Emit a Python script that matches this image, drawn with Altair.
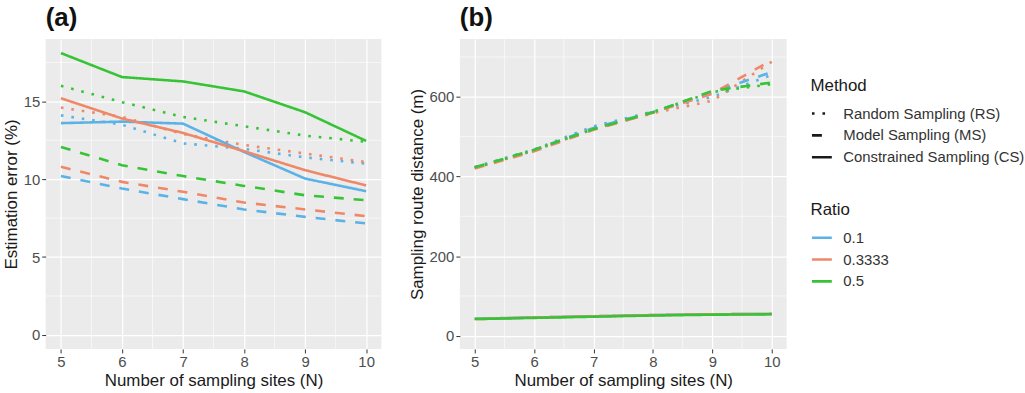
import altair as alt
import pandas as pd

# Number of sampling sites
N = [5, 6, 7, 8, 9, 10]
ratios = ["0.1", "0.3333", "0.5"]
methods = ["Random Sampling (RS)", "Model Sampling (MS)", "Constrained Sampling (CS)"]
ratio_colors = ["#5BB2E6", "#EE8868", "#36C436"]

# (a) Estimation error (%)
err_rs_01 = [14.1, 13.5, 12.3, 11.95, 11.4, 11.0]
err_rs_03 = [14.6, 14.0, 12.9, 12.2, 11.65, 11.1]
err_rs_05 = [16.0, 14.95, 14.0, 13.4, 12.8, 12.4]
err_ms_01 = [10.2, 9.4, 8.72, 8.06, 7.58, 7.16]
err_ms_03 = [10.8, 9.83, 9.19, 8.5, 8.06, 7.63]
err_ms_05 = [12.07, 10.9, 10.2, 9.57, 8.97, 8.65]
err_cs_01 = [13.6, 13.7, 13.57, 11.75, 10.04, 9.23]
err_cs_03 = [15.2, 13.9, 12.97, 11.8, 10.58, 9.6]
err_cs_05 = [18.1, 16.56, 16.28, 15.64, 14.3, 12.46]

# (b) Sampling route distance (m)
dist_rs_01 = [424, 468, 526, 563, 600, 655]
dist_rs_03 = [421, 465, 519, 559, 590, 688]
dist_rs_05 = [422, 466, 520, 562, 612, 632]
dist_ms_01 = [422, 466, 522, 562, 612, 662]
dist_ms_03 = [420, 463, 517, 560, 608, 692]
dist_ms_05 = [423, 467, 519, 561, 615, 636]
dist_cs_01 = [43, 46, 49, 52, 54, 55]
dist_cs_03 = [42, 46, 49, 52, 54, 55]
dist_cs_05 = [42, 45, 48, 51, 53, 54]

err_series = {
    (methods[0], ratios[0]): err_rs_01, (methods[0], ratios[1]): err_rs_03, (methods[0], ratios[2]): err_rs_05,
    (methods[1], ratios[0]): err_ms_01, (methods[1], ratios[1]): err_ms_03, (methods[1], ratios[2]): err_ms_05,
    (methods[2], ratios[0]): err_cs_01, (methods[2], ratios[1]): err_cs_03, (methods[2], ratios[2]): err_cs_05,
}
dist_series = {
    (methods[0], ratios[0]): dist_rs_01, (methods[0], ratios[1]): dist_rs_03, (methods[0], ratios[2]): dist_rs_05,
    (methods[1], ratios[0]): dist_ms_01, (methods[1], ratios[1]): dist_ms_03, (methods[1], ratios[2]): dist_ms_05,
    (methods[2], ratios[0]): dist_cs_01, (methods[2], ratios[1]): dist_cs_03, (methods[2], ratios[2]): dist_cs_05,
}


def long_table(series):
    rows = []
    for (m, r), vals in series.items():
        for n, v in zip(N, vals):
            rows.append({"N": n, "value": v, "Method": m, "Ratio": r})
    return pd.DataFrame(rows)


err_df = long_table(err_series)
dist_df = long_table(dist_series)

FONT = "Liberation Sans"
x_minor = [5.5, 6.5, 7.5, 8.5, 9.5]
err_minor = [2.5, 7.5, 12.5, 17.5]
dist_minor = [100, 300, 500, 700]

color_enc = alt.Color(
    "Ratio:N",
    scale=alt.Scale(domain=ratios, range=ratio_colors),
    legend=alt.Legend(
        title="Ratio", orient="none", legendX=770, legendY=164,
        symbolType="stroke", symbolSize=400, symbolStrokeWidth=2.6,
        symbolDash=[1, 0], labelLimit=300,
    ),
)
dash_enc = alt.StrokeDash(
    "Method:N",
    scale=alt.Scale(domain=methods, range=[[2.6, 8], [10, 10], [1, 0]]),
    legend=alt.Legend(
        title="Method", orient="none", legendX=770, legendY=39,
        symbolType="stroke", symbolSize=400, symbolStrokeWidth=2.6,
        symbolStrokeColor="#1A1A1A", labelLimit=300,
    ),
)


def panel(df, domain, ticks, minor, ytitle, label, width):
    x = alt.X(
        "N:Q", title="Number of sampling sites (N)",
        scale=alt.Scale(domain=[4.75, 10.25], nice=False, zero=False),
        axis=alt.Axis(values=N, format="d"),
    )
    y = alt.Y(
        "value:Q", title=ytitle,
        scale=alt.Scale(domain=domain, nice=False, zero=False),
        axis=alt.Axis(values=ticks, format="d"),
    )
    vminor = alt.Chart(pd.DataFrame({"N": x_minor})).mark_rule(
        color="white", strokeWidth=0.6
    ).encode(x=alt.X("N:Q", scale=alt.Scale(domain=[4.75, 10.25], nice=False, zero=False)))
    hminor = alt.Chart(pd.DataFrame({"value": minor})).mark_rule(
        color="white", strokeWidth=0.6
    ).encode(y=alt.Y("value:Q", scale=alt.Scale(domain=domain, nice=False, zero=False)))
    lines = alt.Chart(df).mark_line(strokeWidth=2.6, clip=True).encode(
        x=x, y=y, color=color_enc, strokeDash=dash_enc,
        detail="Method:N", order="N:Q",
    )
    return alt.layer(vminor, hminor, lines).properties(
        width=width, height=312,
        title=alt.TitleParams(
            label, anchor="start", frame="group", fontSize=26, fontWeight="bold",
            font=FONT, color="#111111", offset=8,
        ),
    )


left = panel(err_df, [-0.9, 19.0], [0, 5, 10, 15], err_minor,
             "Estimation error (%)", "(a)", 338)
right = panel(dist_df, [-33, 745], [0, 200, 400, 600], dist_minor,
              "Sampling route distance (m)", "(b)", 329)

chart = alt.hconcat(left, right, spacing=25).properties(
    padding={"left": 2, "top": 3, "right": 0, "bottom": 0},
).configure_view(
    fill="#EBEBEB", stroke=None,
).configure_axis(
    grid=True, gridColor="white", gridWidth=1.2, domain=False,
    tickColor="#333333", tickSize=4, tickWidth=1,
    labelFont=FONT, labelFontSize=15, labelColor="#4D4D4D", labelPadding=2,
    titleFont=FONT, titleFontSize=17, titleFontWeight="normal", titleColor="#1A1A1A",
    titlePadding=3,
).configure_legend(
    titleFont=FONT, titleFontSize=17, titleFontWeight="normal", titleColor="#1A1A1A",
    labelFont=FONT, labelFontSize=15, labelColor="#333333",
    labelOffset=10, rowPadding=6, titlePadding=11, clipHeight=16,
).configure_concat(spacing=25)

chart.save("out.html", embed_options={"renderer": "svg", "actions": False})
